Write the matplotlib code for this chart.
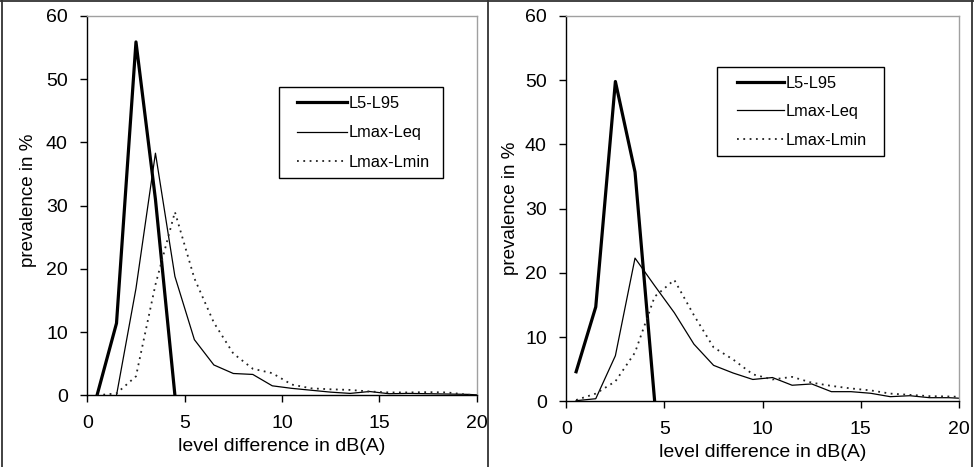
import matplotlib
matplotlib.use("Agg")
import matplotlib.pyplot as plt
from matplotlib.lines import Line2D
from matplotlib.patches import Rectangle

plt.rcParams['font.family'] = ['Liberation Sans', 'DejaVu Sans']

# level difference classes (dB(A)), bin centres
x_vals = [0.5, 1.5, 2.5, 3.5, 4.5, 5.5, 6.5, 7.5, 8.5, 9.5,
          10.5, 11.5, 12.5, 13.5, 14.5, 15.5, 16.5, 17.5, 18.5, 19.5, 20.5]

# left panel
left_l5_l95_x = [0.5, 1.5, 2.5, 3.5, 4.5]
left_l5_l95 = [0.0, 11.4, 55.9, 31.0, 0.0]
left_lmax_leq_x = x_vals[1:]
left_lmax_leq = [0.0, 16.9, 38.3, 18.8, 8.8, 4.8, 3.45, 3.3, 1.5,
                 1.1, 0.8, 0.5, 0.3, 0.6, 0.25, 0.3, 0.25, 0.2, 0.15, 0.0]
left_lmax_lmin = [0.0, 0.3, 3.0, 17.5, 29.0, 18.5, 11.5, 6.6, 4.2, 3.5,
                  1.7, 1.1, 0.95, 0.85, 0.6, 0.45, 0.45, 0.5, 0.45, 0.1, 0.0]

# right panel
right_l5_l95_x = [0.5, 1.5, 2.5, 3.5, 4.5]
right_l5_l95 = [4.6, 14.7, 49.8, 35.7, 0.0]
right_lmax_leq = [0.1, 0.4, 7.1, 22.3, 18.0, 13.8, 8.9, 5.6, 4.4, 3.4,
                  3.7, 2.5, 2.7, 1.5, 1.5, 1.25, 0.72, 0.87, 0.56, 0.56, 0.4]
right_lmax_lmin = [0.2, 1.2, 3.1, 7.6, 16.3, 18.9, 13.4, 8.4, 6.5, 4.2,
                   3.4, 3.8, 2.9, 2.4, 2.0, 1.7, 1.2, 1.0, 0.8, 0.75, 0.65]

series_labels = ['L5-L95', 'Lmax-Leq', 'Lmax-Lmin']
x_ticks = [0, 5, 10, 15, 20]
y_ticks = [0, 10, 20, 30, 40, 50, 60]

W, H = 974, 467
fig = plt.figure(figsize=(W / 100, H / 100), dpi=100)


def px_axes(x0, x1, y0, y1):
    return fig.add_axes([x0 / W, 1 - y0 / H, (x1 - x0) / W, (y0 - y1) / H])


def style(ax, xlab_y, ylab_x, ylab_y, leg_anchor, frame_box, handlelen, spacing):
    ax.set_xlim(0, 20)
    ax.set_ylim(0, 60)
    ax.set_xticks(x_ticks)
    ax.set_yticks(y_ticks)
    ax.tick_params(direction='out', length=5, width=1, labelsize=14, pad=9,
                   colors='black')
    for s in ['top', 'right']:
        ax.spines[s].set_color('#a0a0a0')
        ax.spines[s].set_linewidth(1)
    for s in ['left', 'bottom']:
        ax.spines[s].set_color('black')
        ax.spines[s].set_linewidth(1)
    ax.set_xlabel('level difference in dB(A)', fontsize=14)
    ax.set_ylabel('prevalence in %', fontsize=13.5)
    ax.xaxis.set_label_coords(0.5, xlab_y)
    ax.yaxis.set_label_coords(ylab_x, ylab_y)
    ax.xaxis.label.set_va('center')
    ax.yaxis.label.set_va('center')
    ax.yaxis.label.set_ha('center')
    ax.legend(loc='upper left', bbox_to_anchor=leg_anchor,
              fontsize=11.8, frameon=False,
              handlelength=handlelen, handletextpad=0.1, labelspacing=spacing,
              borderpad=0, borderaxespad=0)
    x0, y0, x1, y1 = frame_box
    ax.add_patch(Rectangle((x0, y0), x1 - x0, y1 - y0, transform=ax.transAxes,
                           facecolor='white', edgecolor='black', lw=1,
                           zorder=4.5))


# Left panel
ax1 = px_axes(87.3, 476.7, 395.3, 16)
ax1.plot(left_l5_l95_x, left_l5_l95, color='black', lw=2.3, label=series_labels[0])
ax1.plot(left_lmax_leq_x, left_lmax_leq, color='black', lw=0.9, label=series_labels[1])
ax1.plot(x_vals, left_lmax_lmin, color='#222222', lw=1.3, ls=(0, (1, 2.5)),
         label=series_labels[2])
style(ax1, -0.136, -0.152, 0.515, (0.5385, 0.789),
      (0.4923, 0.5729, 0.9135, 0.8128), 3.05, 0.87)

# Right panel
ax2 = px_axes(566.3, 959, 401.3, 16)
ax2.plot(right_l5_l95_x, right_l5_l95, color='black', lw=2.3, label=series_labels[0])
ax2.plot(x_vals, right_lmax_leq, color='black', lw=0.9, label=series_labels[1])
ax2.plot(x_vals, right_lmax_lmin, color='#222222', lw=1.3, ls=(0, (1, 2.5)),
         label=series_labels[2])
style(ax2, -0.134, -0.143, 0.50, (0.4355, 0.845),
      (0.383, 0.6366, 0.809, 0.8684), 2.87, 0.82)

# Outer frame lines
frame_kw = dict(color='#333333', lw=1.3, transform=fig.transFigure)
fig.add_artist(Line2D([2 / W, 2 / W], [0, 1], **frame_kw))
fig.add_artist(Line2D([488 / W, 488 / W], [0, 1], **frame_kw))
fig.add_artist(Line2D([972 / W, 972 / W], [0, 1], **frame_kw))
fig.add_artist(Line2D([0, 1], [1 - 1 / H, 1 - 1 / H], **frame_kw))

fig.savefig('out.png', dpi=100)
